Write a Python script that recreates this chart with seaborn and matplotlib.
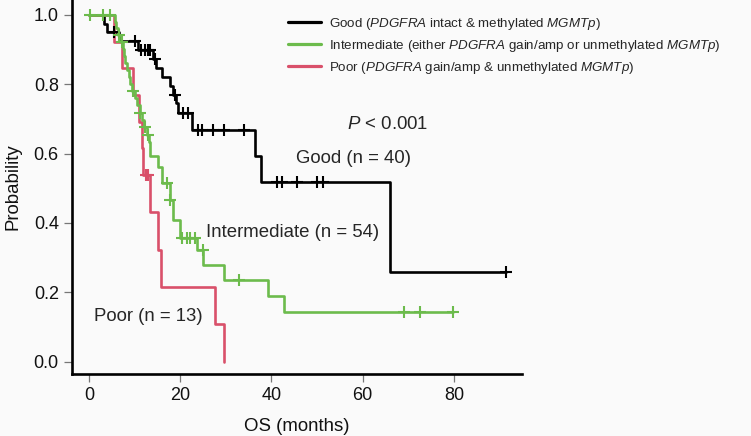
import numpy as np
import pandas as pd
import matplotlib
matplotlib.use("Agg")
import matplotlib.pyplot as plt
from matplotlib.lines import Line2D
import seaborn as sns

# ---------------- data ----------------
good_times = [0, 3.4, 4.0, 6.6, 10.8, 14.0, 14.8, 16.0, 17.7, 18.4, 19.1, 19.6, 22.5, 36.5, 37.7, 66.0]
good_surv = [1.0, 0.975, 0.950, 0.925, 0.900, 0.873, 0.848, 0.822, 0.796, 0.770, 0.745, 0.716, 0.668, 0.593, 0.519, 0.259]
good_end = 91.3
good_censor = [5.4, 10.1, 11.5, 12.4, 12.9, 13.4, 14.5, 18.9, 20.6, 21.7, 24.0, 24.7, 27.3,
               29.5, 34.0, 41.2, 42.3, 45.7, 49.9, 51.2, 91.3]

inter_times = [0, 5.7, 6.0, 6.4, 7.0, 7.4, 7.7, 8.0, 8.4, 8.7, 9.0, 9.4, 10.0, 10.6, 11.2, 11.7,
               12.1, 12.7, 13.1, 13.4, 15.2, 16.0, 17.8, 18.5, 20.0, 23.6, 25.1, 29.5, 39.2, 42.7]
inter_surv = [1.0, 0.980, 0.961, 0.941, 0.921, 0.901, 0.881, 0.861, 0.841, 0.820, 0.800, 0.780,
              0.760, 0.739, 0.718, 0.697, 0.676, 0.654, 0.632, 0.592, 0.562, 0.514, 0.466, 0.408,
              0.356, 0.322, 0.278, 0.235, 0.189, 0.143]
inter_end = 79.7
inter_censor = [0.2, 3.1, 4.6, 6.6, 7.2, 9.6, 11.3, 12.3, 12.9, 17.1, 17.8, 20.3, 21.4, 22.2,
                23.3, 25.0, 33.0, 69.1, 72.6, 79.7]

poor_times = [0, 5.6, 7.2, 9.7, 10.9, 11.6, 11.9, 13.4, 15.2, 15.8, 27.6, 29.6]
poor_surv = [1.0, 0.923, 0.846, 0.769, 0.692, 0.615, 0.538, 0.431, 0.323, 0.215, 0.108, 0.0]
poor_end = 29.6
poor_censor = [12.6, 13.0]

groups = ["Good", "Intermediate", "Poor"]
legend_labels = [
    r"Good ($\mathit{PDGFRA}$ intact & methylated $\mathit{MGMTp}$)",
    r"Intermediate (either $\mathit{PDGFRA}$ gain/amp or unmethylated $\mathit{MGMTp}$)",
    r"Poor ($\mathit{PDGFRA}$ gain/amp & unmethylated $\mathit{MGMTp}$)",
]
curve_labels = ["Good (n = 40)", "Intermediate (n = 54)", "Poor (n = 13)"]
x_ticks = [0, 20, 40, 60, 80]
y_ticks = [0.0, 0.2, 0.4, 0.6, 0.8, 1.0]

# ---------------- style ----------------
BG = "#fafafa"
colors = {"Good": "#000000", "Intermediate": "#6cbb4c", "Poor": "#d9506a"}

sns.set_theme(style="white")
plt.rcParams["font.family"] = ["Liberation Sans", "DejaVu Sans"]
plt.rcParams["mathtext.fontset"] = "custom"
plt.rcParams["mathtext.rm"] = "Liberation Sans"
plt.rcParams["mathtext.it"] = "Liberation Sans:italic"

fig = plt.figure(figsize=(7.51, 4.36), dpi=100, facecolor=BG)
ax = fig.add_axes([72 / 751, 1 - 374 / 436, 450 / 751, 374 / 436])
ax.set_facecolor(BG)


def step_frame(times, surv, end):
    t = list(times)
    s = list(surv)
    if end > t[-1]:
        t.append(end)
        s.append(s[-1])
    return pd.DataFrame({"time": t, "surv": s})


def censor_frame(times, surv, cens):
    t = np.asarray(times)
    s = np.asarray(surv)
    idx = np.searchsorted(t, cens, side="right") - 1
    return pd.DataFrame({"time": cens, "surv": s[idx]})


series = {
    "Good": (good_times, good_surv, good_end, good_censor),
    "Intermediate": (inter_times, inter_surv, inter_end, inter_censor),
    "Poor": (poor_times, poor_surv, poor_end, poor_censor),
}

for g in ["Good", "Poor", "Intermediate"]:
    t, s, e, c = series[g]
    df = step_frame(t, s, e)
    sns.lineplot(data=df, x="time", y="surv", ax=ax, color=colors[g], lw=1.9,
                 drawstyle="steps-post", estimator=None, sort=False)
    cf = censor_frame(t, s, c)
    if len(cf):
        sns.scatterplot(data=cf, x="time", y="surv", ax=ax, color=colors[g], marker="+",
                        s=70, linewidth=1.5, zorder=3)

ax.set_xlim(-3.7, 94.9)
ax.set_ylim(-0.036, 1.043)
ax.set_xticks(x_ticks)
ax.set_yticks(y_ticks)
ax.set_yticklabels([f"{v:.1f}" for v in y_ticks])

for side in ["top", "right"]:
    ax.spines[side].set_visible(False)
for side in ["left", "bottom"]:
    ax.spines[side].set_color("black")
    ax.spines[side].set_linewidth(1.9)

ax.tick_params(axis="both", which="major", direction="out", length=5.5, width=0.9,
               color="#777777", labelsize=13, labelcolor="#111111", pad=4,
               left=True, bottom=True)

ax.set_xlabel("OS (months)", fontsize=13.4, labelpad=10, color="#111111")
ax.set_ylabel("Probability", fontsize=13.4, labelpad=9, color="#111111")

# annotations
ax.text(56.6, 0.683, r"$\mathit{P}$ < 0.001", fontsize=13.4, ha="left", va="center")
ax.text(45.3, 0.585, curve_labels[0], fontsize=13.4, ha="left", va="center")
ax.text(25.7, 0.371, curve_labels[1], fontsize=13.4, ha="left", va="center")
ax.text(1.1, 0.131, curve_labels[2], fontsize=13.4, ha="left", va="center")

handles = [Line2D([0], [0], color=colors[g], lw=2.3) for g in groups]
fig.legend(handles, legend_labels, loc="upper left", bbox_to_anchor=(288 / 751, 1 - 16 / 436),
           frameon=False, fontsize=9.6, handlelength=2.5, handletextpad=0.6,
           labelspacing=0.45, borderpad=0, borderaxespad=0)

fig.savefig("out.png", dpi=100, facecolor=BG)
